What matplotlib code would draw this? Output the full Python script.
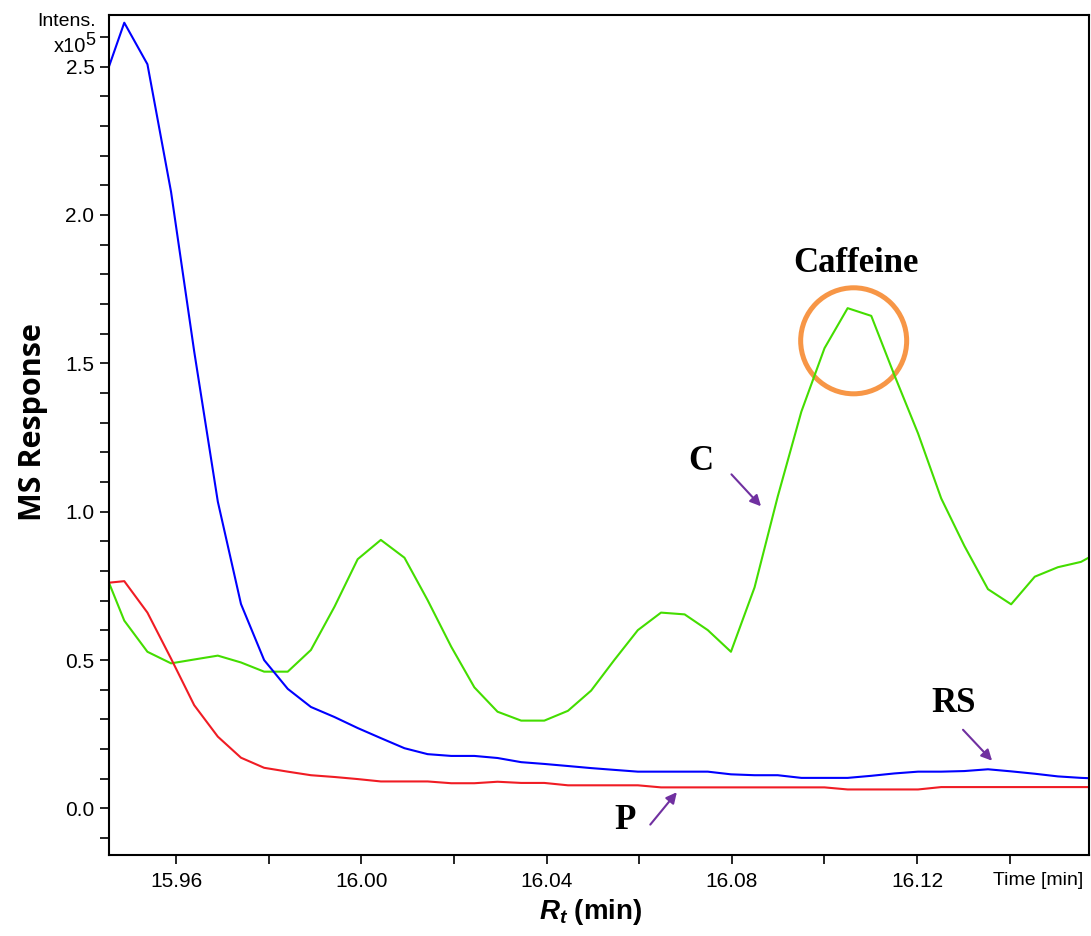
import matplotlib
matplotlib.use("Agg")
import matplotlib.pyplot as plt
from matplotlib.patches import Ellipse
from matplotlib.ticker import MultipleLocator, FormatStrFormatter

plt.rcParams['font.family'] = ['Liberation Sans', 'DejaVu Sans']
plt.rcParams['mathtext.fontset'] = 'custom'
plt.rcParams['mathtext.it'] = 'Liberation Sans:italic:bold'
plt.rcParams['mathtext.rm'] = 'Liberation Sans:bold'

# Retention times (min)
time = [15.9437, 15.9488, 15.9538, 15.9589, 15.9639, 15.9690, 15.9740, 15.9790,
        15.9841, 15.9891, 15.9942, 15.9992, 16.0042, 16.0093, 16.0143, 16.0194,
        16.0244, 16.0294, 16.0345, 16.0395, 16.0446, 16.0496, 16.0546, 16.0597,
        16.0647, 16.0698, 16.0748, 16.0798, 16.0849, 16.0899, 16.0950, 16.1000,
        16.1050, 16.1101, 16.1151, 16.1202, 16.1252, 16.1302, 16.1353, 16.1403,
        16.1454, 16.1504, 16.1554, 16.1605]

# Intensities (x10^5)
rs_blue = [2.42, 2.648, 2.508, 2.078, 1.54, 1.034, 0.689, 0.50, 0.403, 0.342,
           0.308, 0.271, 0.237, 0.203, 0.183, 0.177, 0.177, 0.170, 0.156, 0.150,
           0.143, 0.136, 0.130, 0.124, 0.124, 0.124, 0.124, 0.115, 0.112, 0.112,
           0.103, 0.103, 0.103, 0.110, 0.118, 0.124, 0.124, 0.126, 0.132, 0.125,
           0.117, 0.108, 0.103, 0.100]

p_red = [0.758, 0.766, 0.660, 0.505, 0.348, 0.242, 0.171, 0.137, 0.124, 0.112,
         0.106, 0.099, 0.091, 0.091, 0.091, 0.085, 0.085, 0.090, 0.086, 0.086,
         0.078, 0.078, 0.078, 0.078, 0.071, 0.071, 0.071, 0.071, 0.071, 0.071,
         0.071, 0.071, 0.064, 0.064, 0.064, 0.064, 0.072, 0.072, 0.072, 0.072,
         0.072, 0.072, 0.072, 0.072]

c_green = [0.83, 0.633, 0.528, 0.489, 0.502, 0.515, 0.492, 0.461, 0.461, 0.534,
           0.680, 0.840, 0.905, 0.845, 0.702, 0.545, 0.408, 0.326, 0.296, 0.296,
           0.329, 0.397, 0.500, 0.601, 0.660, 0.654, 0.601, 0.528, 0.745, 1.051,
           1.337, 1.551, 1.686, 1.660, 1.46, 1.264, 1.045, 0.885, 0.739, 0.688,
           0.781, 0.813, 0.831, 0.875]

fig = plt.figure(figsize=(10.91, 9.36), dpi=100)
ax = fig.add_axes([0.0999, 0.0865, 0.8982, 0.8978])

ax.plot(time, c_green, color="#44dd00", lw=1.5)
ax.plot(time, p_red, color="#f01c24", lw=1.5)
ax.plot(time, rs_blue, color="#0000ff", lw=1.5)

ax.set_xlim(15.9455, 16.1571)
ax.set_ylim(-0.157, 2.675)

ax.xaxis.set_major_locator(MultipleLocator(0.04))
ax.xaxis.set_minor_locator(MultipleLocator(0.02))
ax.yaxis.set_major_locator(MultipleLocator(0.5))
ax.yaxis.set_minor_locator(MultipleLocator(0.1))
ax.xaxis.set_major_formatter(FormatStrFormatter('%.2f'))
ax.yaxis.set_major_formatter(FormatStrFormatter('%.1f'))
ax.tick_params(which='both', direction='out', length=6.5, width=1.2)
ax.tick_params(axis='x', labelsize=15, pad=6)
ax.tick_params(axis='y', labelsize=15, pad=4)
for s in ax.spines.values():
    s.set_linewidth(1.5)

# Bruker-style axis captions
ax.text(16.1364, -0.2427, "Time [min]", fontsize=14, ha='left', va='center')
fig.text(0.088, 0.977, "Intens.", fontsize=14, ha='right', va='center')
fig.text(0.0785, 0.950, "x10", fontsize=14.5, ha='right', va='center')
fig.text(0.0785, 0.957, "5", fontsize=13, ha='left', va='center')

fig.text(33 / 1091, 1 - 422 / 936, "MS Response", rotation=90, fontsize=22,
         fontweight='bold', family='Open Sans', ha='center', va='center')
fig.text(591 / 1091, 1 - 912 / 936, r"$R_t$ (min)", fontsize=20,
         fontweight='bold', ha='center', va='center')

# Annotations
serif = dict(family='Liberation Serif', fontweight='bold', fontsize=25,
             ha='center', va='center')
ax.text(16.1068, 1.835, "Caffeine", **serif)
ax.add_patch(Ellipse((16.1063, 1.576), 0.02289, 0.3573, fill=False,
                     edgecolor="#f79646", lw=3.6))

arrow = dict(arrowstyle='-|>', color="#7030a0", lw=1.5, mutation_scale=16)
ax.text(16.0732, 1.1685, "C", **serif)
ax.annotate("", xy=(16.0867, 1.0115), xytext=(16.0795, 1.1328), arrowprops=arrow)
ax.text(16.0570, -0.039, "P", **serif)
ax.annotate("", xy=(16.0685, 0.062), xytext=(16.0620, -0.0617), arrowprops=arrow)
ax.text(16.1278, 0.354, "RS", **serif)
ax.annotate("", xy=(16.1366, 0.154), xytext=(16.1295, 0.272), arrowprops=arrow)

fig.savefig("out.png", dpi=100)
